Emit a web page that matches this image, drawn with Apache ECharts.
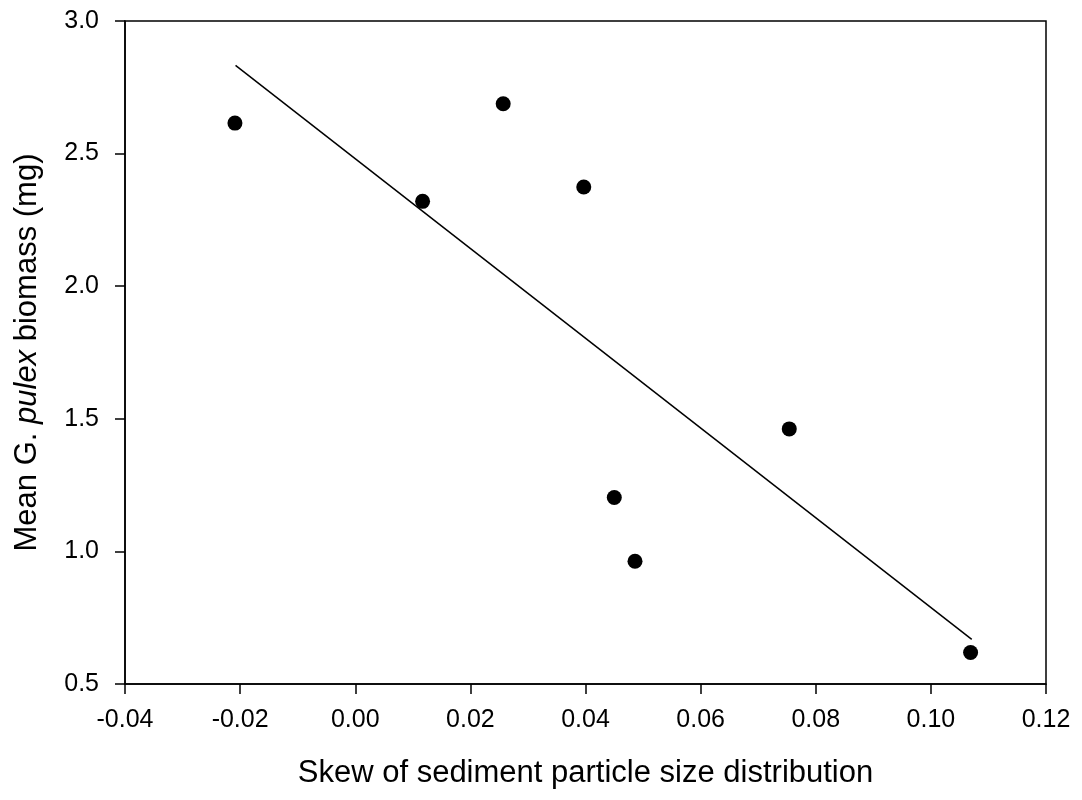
<!DOCTYPE html>
<html>
<head>
<meta charset="utf-8">
<script src="https://cdn.jsdelivr.net/npm/echarts@6/dist/echarts.min.js"></script>
<style>
  html, body { margin: 0; padding: 0; background: #fff; }
  #chart { width: 1082px; height: 800px; }
</style>
</head>
<body>
<div id="chart"></div>
<script>
// skew of sediment particle size distribution (x) vs mean biomass (y)
const skewValues = [-0.0209, 0.0117, 0.0257, 0.0397, 0.0450, 0.0486, 0.0754, 0.1069];
const biomassValues = [2.615, 2.320, 2.688, 2.374, 1.203, 0.963, 1.462, 0.619];
// regression line end points
const fitX = [-0.0208, 0.1071];
const fitY = [2.833, 0.668];

const font = '"Liberation Sans", Arial, Helvetica, sans-serif';

let myChart = echarts.init(document.getElementById("chart"));

myChart.setOption({
  animation: false,
  backgroundColor: "#fff",
  grid: {
    left: 125,
    right: 36,
    top: 21,
    bottom: 116,
    show: true,
    borderColor: "#000",
    borderWidth: 1.5
  },
  xAxis: {
    type: "value",
    min: -0.04,
    max: 0.12,
    interval: 0.02,
    name: "Skew of sediment particle size distribution",
    nameLocation: "middle",
    nameGap: 74,
    nameTextStyle: { fontFamily: font, fontSize: 31, color: "#000" },
    axisLine: { show: true, onZero: false, lineStyle: { color: "#000", width: 1.5 } },
    axisTick: { show: true, inside: false, length: 10, lineStyle: { color: "#000", width: 1.5 } },
    axisLabel: {
      margin: 24,
      fontFamily: font,
      fontSize: 25,
      color: "#000",
      formatter: v => v.toFixed(2)
    },
    splitLine: { show: false }
  },
  yAxis: {
    type: "value",
    min: 0.5,
    max: 3.0,
    interval: 0.5,
    name: "Mean G. {i|pulex} biomass (mg)",
    nameLocation: "middle",
    nameGap: 82,
    nameTextStyle: {
      fontFamily: font,
      fontSize: 31,
      color: "#000",
      rich: {
        i: { fontFamily: font, fontSize: 31, fontStyle: "italic", color: "#000" }
      }
    },
    axisLine: { show: true, onZero: false, lineStyle: { color: "#000", width: 1.5 } },
    axisTick: { show: true, inside: false, length: 10, lineStyle: { color: "#000", width: 1.5 } },
    axisLabel: {
      margin: 26,
      fontFamily: font,
      fontSize: 25,
      color: "#000",
      formatter: v => v.toFixed(1)
    },
    splitLine: { show: false }
  },
  series: [
    {
      type: "line",
      data: fitX.map((x, i) => [x, fitY[i]]),
      showSymbol: false,
      symbol: "none",
      lineStyle: { color: "#000", width: 1.5 },
      z: 2
    },
    {
      type: "scatter",
      data: skewValues.map((x, i) => [x, biomassValues[i]]),
      symbol: "circle",
      symbolSize: 15,
      itemStyle: { color: "#000", opacity: 1 },
      z: 3
    }
  ]
});
</script>
</body>
</html>
